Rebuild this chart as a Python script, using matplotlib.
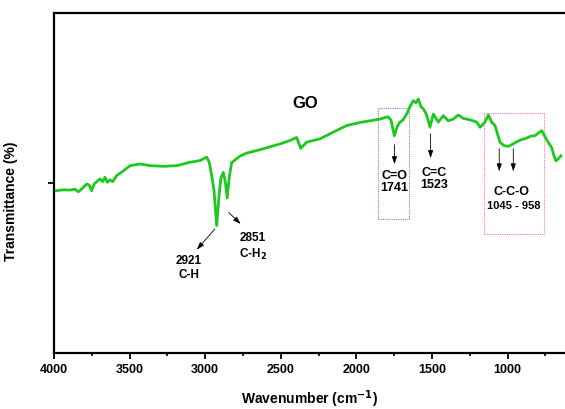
import matplotlib
matplotlib.use("Agg")
import matplotlib.pyplot as plt
from matplotlib.patches import Rectangle
from matplotlib.ticker import MultipleLocator, FixedLocator

plt.rcParams['font.family'] = ['Liberation Sans', 'DejaVu Sans']
plt.rcParams['font.weight'] = 'bold'

# FTIR spectrum of GO (wavenumber in cm-1, transmittance in arbitrary %)
wavenumber = [4000, 3993, 3938, 3894, 3861, 3839, 3806, 3784, 3767, 3751, 3735,
              3696, 3678, 3663, 3647, 3630, 3612, 3585, 3552, 3497, 3431, 3365,
              3277, 3188, 3101, 3034, 2990, 2973, 2957, 2942, 2924, 2909, 2896,
              2880, 2866, 2854, 2843, 2825, 2770, 2726, 2637, 2505, 2439, 2395,
              2368, 2329, 2241, 2064, 1976, 1844, 1791, 1771, 1749, 1731, 1712,
              1692, 1667, 1645, 1624, 1606, 1590, 1573, 1557, 1540, 1524, 1513,
              1491, 1458, 1425, 1392, 1359, 1326, 1293, 1249, 1204, 1182, 1149,
              1127, 1105, 1083, 1050, 1024, 995, 971, 940, 911, 874, 845, 819,
              799, 774, 741, 708, 693, 680, 658, 647]
transmittance = [47.7, 47.7, 48.0, 47.9, 48.2, 47.4, 48.7, 49.7, 49.4, 47.7, 49.7,
                 51.2, 50.4, 51.7, 50.2, 50.9, 50.4, 52.2, 53.2, 55.1, 55.6, 55.1,
                 54.9, 55.1, 56.1, 56.6, 57.6, 56.1, 52.2, 48.0, 37.5, 46.0, 51.5,
                 53.1, 50.0, 45.6, 51.0, 56.0, 57.9, 58.8, 59.8, 61.5, 62.5, 63.4,
                 60.2, 62.0, 63.0, 66.9, 67.8, 68.8, 69.5, 68.5, 63.9, 66.5, 67.9,
                 68.5, 70.3, 72.5, 74.2, 73.6, 74.7, 72.5, 71.8, 70.5, 68.3, 66.4,
                 70.3, 67.9, 69.8, 68.3, 68.8, 70.0, 69.0, 68.6, 67.9, 66.4, 67.9,
                 70.0, 67.9, 66.9, 62.0, 61.0, 60.8, 61.3, 62.1, 62.7, 63.2, 63.8, 63.9,
                 64.6, 65.4, 62.7, 60.4, 58.0, 56.5, 57.4, 58.0]

# peak labels: (text lines, label position, arrow tail, arrow head)
peak_labels = [
    ("2921\nC-H", (3107, 25.3), (2924, 37.1), (3067, 29.8)),
    ("2851\nC-H$_\\mathbf{2}$", (2685, 31.4), (2858, 41.9), (2752, 37.4)),
]
vertical_arrows = [1748, 1509, 1055, 962]
box_co = (1857, 1652, 39.4, 72.1)     # x0, x1, y0, y1
box_cco = (1156, 759, 35.0, 70.6)


def main():
    fig = plt.figure(figsize=(5.65, 4.1), dpi=100)
    ax = fig.add_axes([54 / 565, 1 - 354 / 410, 511 / 565, 340 / 410])

    ax.plot(wavenumber, transmittance, color='#1ec81e', lw=2.0, solid_joinstyle='round')

    ax.set_xlim(4000, 620)
    ax.set_ylim(0, 100)

    # axes look
    ax.spines['right'].set_visible(False)
    for s in ['left', 'bottom', 'top']:
        ax.spines[s].set_linewidth(1.6)
    ax.xaxis.set_major_locator(MultipleLocator(500))
    ax.xaxis.set_minor_locator(MultipleLocator(250))
    ax.yaxis.set_major_locator(FixedLocator([50]))
    ax.set_yticklabels([])
    ax.tick_params(axis='both', which='major', direction='out', length=4, width=1.3,
                   labelsize=9, pad=3)
    ax.tick_params(axis='x', which='minor', direction='out', length=2.5, width=1.2)

    ax.set_xlabel('Wavenumber (cm$^{\\mathbf{-1}}$)', fontsize=10, fontweight='bold')
    ax.set_ylabel('Transmittance (%)', fontsize=10, fontweight='bold')
    ax.xaxis.set_label_coords(0.5, -0.1)
    ax.yaxis.set_label_coords(-0.07, 0.45)

    ax.text(2340, 73.8, 'GO', fontsize=12, fontweight='bold', ha='center', va='center')

    # dotted boxes around the C=O and C-C-O regions
    ax.add_patch(Rectangle((box_co[0], box_co[2]), box_co[1] - box_co[0], box_co[3] - box_co[2],
                           fill=False, ls=(0, (1, 1)), lw=0.8, ec='#6f82d8'))
    ax.add_patch(Rectangle((box_cco[0], box_cco[2]), box_cco[1] - box_cco[0], box_cco[3] - box_cco[2],
                           fill=False, ls=(0, (1, 1)), lw=0.8, ec='#ff6fae'))

    arrow_style = dict(arrowstyle='-|>,head_length=0.45,head_width=0.15', color='black', lw=0.6)

    # vertical arrows
    tops = [62.1, 65.3, 60.9, 60.9]
    bottoms = [54.7, 56.5, 52.6, 52.6]
    for x, y0, y1 in zip(vertical_arrows, tops, bottoms):
        ax.annotate('', xy=(x, y1), xytext=(x, y0), arrowprops=arrow_style)

    ax.text(1751, 50.7, 'C=O\n1741', fontsize=9, ha='center', va='center', linespacing=1.0)
    ax.text(1487, 51.6, 'C=C\n1523', fontsize=9, ha='center', va='center', linespacing=1.0)
    ax.text(971, 47.6, 'C-C-O', fontsize=9, ha='center', va='center')
    ax.text(958, 43.6, '1045 - 958', fontsize=8, ha='center', va='center')

    # slanted arrows for C-H bands
    for txt, pos, tail, head in peak_labels:
        ax.annotate('', xy=head, xytext=tail, arrowprops=arrow_style)
        ax.text(pos[0], pos[1], txt, fontsize=8.5, ha='center', va='center', linespacing=1.25)

    fig.savefig('out.png', dpi=100)


if __name__ == "__main__":
    main()
